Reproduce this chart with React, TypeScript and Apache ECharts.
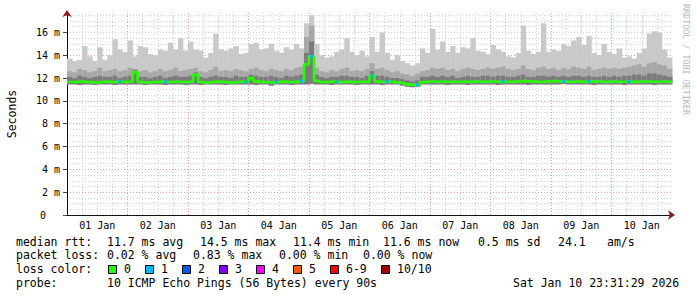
import React, { useEffect, useRef } from 'react';
import * as echarts from 'echarts';

// ---- data (hours since 01 Jan 00:00, 2-hour bins; values in ms) ----
const BIN_HOURS = 2;
const X_MAX_HOURS = 240;
const Y_MAX_MS = 17.7;

const dayLabels = ['01 Jan', '02 Jan', '03 Jan', '04 Jan', '05 Jan', '06 Jan', '07 Jan', '08 Jan', '09 Jan', '10 Jan'];
const dayLabelHours = [12, 36, 60, 84, 108, 132, 156, 180, 204, 228];
const yTickValues = [0, 2, 4, 6, 8, 10, 12, 14, 16];

const rttMax = [
  13.7, 13.5, 13.6, 14.8, 13.9, 13.5, 14.7, 13.6, 14.0, 15.4,
  14.5, 14.3, 15.3, 13.9, 14.8, 14.7, 14.1, 14.0, 14.5, 14.4,
  15.1, 14.5, 15.5, 14.4, 15.2, 14.5, 14.4, 13.8, 14.2, 15.9,
  14.5, 14.4, 14.6, 14.8, 14.1, 14.2, 15.0, 15.1, 14.5, 14.6,
  15.0, 14.4, 14.2, 14.7, 14.5, 15.0, 14.6, 16.8, 17.5, 15.0,
  14.0, 13.8, 13.9, 14.3, 14.5, 15.5, 14.3, 14.0, 14.4, 13.9,
  15.6, 14.3, 16.0, 14.2, 13.6, 14.0, 13.5, 13.3, 13.1, 13.3,
  14.6, 14.2, 16.3, 14.5, 15.2, 14.3, 14.8, 14.2, 14.7, 14.6,
  15.5, 14.4, 14.3, 14.1, 14.9, 14.5, 14.3, 13.9, 13.8, 14.2,
  16.6, 14.4, 14.1, 14.3, 16.8, 14.3, 14.5, 14.4, 15.0, 14.8,
  15.3, 15.6, 14.9, 15.7, 14.2, 14.0, 15.0, 14.3, 14.1, 14.6,
  13.8, 13.9, 13.7, 14.2, 14.6, 15.9, 16.1, 16.0, 14.5, 13.8,
];

const rttUpper = [
  12.6, 12.5, 12.8, 12.7, 12.5, 12.6, 12.9, 12.6, 12.7, 12.8, 12.6, 12.7,
  12.9, 12.8, 12.6, 12.7, 12.5, 12.6, 12.8, 12.6, 12.7, 12.9, 12.6, 12.7,
  12.8, 12.9, 12.6, 12.5, 12.7, 13.0, 12.6, 12.7, 12.6, 12.8, 12.7, 12.6,
  12.8, 12.9, 12.7, 12.6, 12.8, 12.7, 12.6, 12.8, 12.7, 12.9, 13.0, 15.6,
  16.6, 12.9, 12.6, 12.5, 12.7, 12.6, 12.8, 12.9, 12.6, 12.7, 12.6, 12.8,
  13.3, 12.8, 12.9, 12.7, 12.5, 12.6, 12.4, 12.3, 12.2, 12.4, 12.6, 12.7,
  12.9, 12.8, 12.9, 12.7, 12.8, 12.6, 12.8, 12.9, 12.8, 12.7, 12.8, 12.9,
  12.8, 12.9, 13.0, 12.8, 12.7, 12.8, 13.1, 12.8, 12.7, 12.9, 13.0, 12.8,
  12.9, 12.7, 12.9, 12.8, 13.0, 12.9, 12.8, 13.0, 12.7, 12.8, 12.9, 12.8,
  12.9, 12.8, 12.9, 13.0, 13.1, 13.2, 13.0, 13.3, 13.4, 13.2, 13.1, 12.8,
];

const rttLower = [
  12.1, 12.0, 12.2, 12.1, 12.0, 12.1, 12.2, 12.1, 12.1, 12.2, 12.0, 12.1,
  12.2, 12.7, 12.1, 12.1, 12.0, 12.1, 12.2, 12.0, 12.1, 12.2, 12.1, 12.1,
  12.2, 12.5, 12.1, 12.0, 12.1, 12.2, 12.1, 12.1, 12.0, 12.2, 12.1, 12.1,
  12.3, 12.2, 12.1, 12.1, 12.2, 12.1, 12.0, 12.2, 12.1, 12.2, 12.3, 14.2,
  15.2, 12.3, 12.1, 12.0, 12.1, 12.1, 12.2, 12.2, 12.1, 12.1, 12.0, 12.2,
  12.6, 12.2, 12.2, 12.1, 12.0, 12.0, 11.9, 11.8, 11.7, 11.8, 12.1, 12.1,
  12.2, 12.1, 12.2, 12.1, 12.2, 12.0, 12.1, 12.2, 12.1, 12.1, 12.2, 12.2,
  12.1, 12.2, 12.2, 12.1, 12.1, 12.2, 12.3, 12.1, 12.1, 12.2, 12.2, 12.1,
  12.2, 12.1, 12.2, 12.1, 12.2, 12.2, 12.1, 12.2, 12.1, 12.1, 12.2, 12.1,
  12.2, 12.1, 12.2, 12.2, 12.3, 12.3, 12.2, 12.4, 12.4, 12.3, 12.2, 12.1,
];

const rttMin = [
  11.45, 11.45, 11.4, 11.45, 11.45, 11.4, 11.45, 11.45, 11.45, 11.4, 11.45, 11.45,
  11.45, 11.45, 11.45, 11.4, 11.45, 11.45, 11.45, 11.4, 11.45, 11.45, 11.45, 11.4,
  11.45, 11.45, 11.4, 11.45, 11.45, 11.45, 11.45, 11.4, 11.45, 11.45, 11.45, 11.45,
  11.45, 11.4, 11.45, 11.45, 11.35, 11.45, 11.45, 11.45, 11.4, 11.45, 11.45, 11.45,
  11.5, 11.45, 11.45, 11.45, 11.4, 11.45, 11.45, 11.45, 11.45, 11.4, 11.45, 11.45,
  11.45, 11.45, 11.4, 11.45, 11.45, 11.45, 11.35, 11.25, 11.2, 11.25, 11.45, 11.45,
  11.45, 11.45, 11.45, 11.4, 11.45, 11.45, 11.45, 11.4, 11.45, 11.45, 11.45, 11.45,
  11.45, 11.4, 11.45, 11.45, 11.45, 11.45, 11.45, 11.4, 11.45, 11.45, 11.45, 11.45,
  11.45, 11.45, 11.5, 11.45, 11.45, 11.45, 11.45, 11.45, 11.4, 11.45, 11.45, 11.45,
  11.45, 11.45, 11.4, 11.45, 11.45, 11.45, 11.45, 11.45, 11.4, 11.45, 11.45, 11.45,
];

const rttMedian = [
  11.65, 11.65, 11.7, 11.65, 11.65, 11.6, 11.65, 11.7, 11.65, 11.65, 11.7, 11.65,
  11.7, 12.5, 11.65, 11.6, 11.65, 11.65, 11.7, 11.65, 11.65, 11.7, 11.65, 11.65,
  11.7, 12.3, 11.65, 11.6, 11.65, 11.7, 11.65, 11.65, 11.6, 11.65, 11.7, 11.65,
  12.0, 11.7, 11.65, 11.65, 11.6, 11.65, 11.7, 11.65, 11.65, 11.7, 11.75, 13.2,
  13.9, 11.75, 11.65, 11.65, 11.7, 11.65, 11.65, 11.7, 11.65, 11.65, 11.7, 11.65,
  12.2, 11.7, 11.65, 11.7, 11.65, 11.6, 11.55, 11.45, 11.4, 11.4, 11.65, 11.7,
  11.7, 11.65, 11.7, 11.65, 11.7, 11.65, 11.7, 11.65, 11.7, 11.7, 11.65, 11.7,
  11.7, 11.65, 11.7, 11.65, 11.7, 11.7, 11.75, 11.7, 11.7, 11.65, 11.7, 11.7,
  11.75, 11.7, 11.7, 11.65, 11.7, 11.7, 11.65, 11.7, 11.7, 11.7, 11.65, 11.7,
  11.7, 11.65, 11.7, 11.7, 11.65, 11.7, 11.7, 11.7, 11.65, 11.7, 11.7, 11.65,
];

// bins with packet loss (index into the arrays above) and the lost-ping count
const lossBins = [10, 19, 35, 41, 46, 48, 53, 60, 63, 69, 86, 98, 103, 111];
const lossCounts = [1, 1, 1, 1, 1, 1, 1, 1, 1, 1, 1, 1, 1, 1];

const lossLabels = ['0', '1', '2', '3', '4', '5', '6-9', '10/10'];
const lossColors = ['#26ff00', '#00b8ff', '#0059ff', '#7e00ff', '#ff00ff', '#ff5500', '#ff0000', '#a10000'];

const rttTitle = 'median rtt:';
const rttStats = ['11.7 ms avg', '14.5 ms max', '11.4 ms min', '11.6 ms now', '0.5 ms sd', '24.1', 'am/s'];
const lossTitle = 'packet loss:';
const lossStats = ['0.02 % avg', '0.83 % max', '0.00 % min', '0.00 % now'];
const colorTitle = 'loss color:';
const probeTitle = 'probe:';
const probeText = '10 ICMP Echo Pings (56 Bytes) every 90s';
const stampText = 'Sat Jan 10 23:31:29 2026';
const watermark = 'RRDTOOL / TOBI OETIKER';
const yAxisName = 'Seconds';

// ---- layout / style ----
const MONO = '"DejaVu Sans Mono", monospace';
const LEGEND_FONT = `11.5px ${MONO}`;
const rttStatX = [107, 200, 293, 383, 478, 558, 607];
const lossStatX = [107, 193, 279, 363];
const SMOKE_LIGHT = '#c9c9c9';
const SMOKE_MID = '#a8a8a8';
const SMOKE_DARK = '#7c7c7c';

function lossColorFor(n: number) {
  if (n <= 5) return lossColors[n];
  if (n < 10) return lossColors[6];
  return lossColors[7];
}

export default function App() {
  const ref = useRef<HTMLDivElement>(null);

  useEffect(() => {
    if (!ref.current) return;
    const chart = echarts.init(ref.current, null, { renderer: 'svg' });

    const times = rttMax.map((_, i) => i * BIN_HOURS);
    const medianData = rttMedian.map((v, i) => [times[i], v]);
    medianData.push([X_MAX_HOURS, rttMedian[rttMedian.length - 1]]);
    const smokeData = times.map((t, i) => [t, rttMin[i], rttLower[i], rttUpper[i], rttMax[i]]);
    const lossData = lossBins.map((b, k) => [times[b], rttMedian[b], lossCounts[k]]);

    // legend graphic elements
    const txt = (text: string, x: number, y: number) => ({
      type: 'text',
      x,
      y,
      silent: true,
      style: {
        text,
        font: LEGEND_FONT,
        fill: '#000',
        align: 'left',
        verticalAlign: 'middle',
        textAlign: 'left',
        textVerticalAlign: 'middle',
      },
    });
    const elements: any[] = [];
    const L1 = 241.5, L2 = 255.2, L3 = 269, L4 = 283.2;
    elements.push(txt(rttTitle, 16, L1));
    rttStats.forEach((s, i) => elements.push(txt(s, rttStatX[i], L1)));
    elements.push(txt(lossTitle, 16, L2));
    lossStats.forEach((s, i) => elements.push(txt(s, lossStatX[i], L2)));
    elements.push(txt(colorTitle, 16, L3));
    let sx = 108;
    lossLabels.forEach((lab, i) => {
      elements.push({
        type: 'rect',
        silent: true,
        shape: { x: sx + 0.5, y: L3 - 3.5, width: 8, height: 8 },
        style: { fill: lossColors[i], stroke: '#000', lineWidth: 1 },
      });
      elements.push(txt(lab, sx + 16, L3));
      sx += 16 + lab.length * 7 + 14;
    });
    elements.push(txt(probeTitle, 16, L4));
    elements.push(txt(probeText, 107, L4));
    elements.push(txt(stampText, 513, L4));
    elements.push({
      type: 'text',
      x: 686,
      y: 4,
      rotation: -Math.PI / 2,
      silent: true,
      style: {
        text: watermark,
        font: `8.4px ${MONO}`,
        fill: '#b8b8b8',
        align: 'left',
        verticalAlign: 'middle',
        textAlign: 'left',
        textVerticalAlign: 'middle',
      },
    });

    const gridMinor = { color: '#d2d2d2', type: [1, 2], width: 1 };
    const gridMajor = { color: '#e6a0a0', type: [1, 2], width: 1 };

    const option: any = {
      animation: false,
      backgroundColor: '#ffffff',
      grid: { left: 67, right: 25, top: 13, bottom: 82, containLabel: false, outerBoundsMode: 'none' },
      xAxis: [
        {
          type: 'value', position: 'bottom', min: 0, max: X_MAX_HOURS, interval: 6,
          axisLine: { show: false }, axisTick: { show: false }, axisLabel: { show: false },
          splitLine: { show: true, showMinLine: false, showMaxLine: false, lineStyle: gridMinor },
        },
        {
          type: 'value', position: 'bottom', min: 0, max: X_MAX_HOURS, interval: 24,
          axisLine: {
            show: true, symbol: ['none', 'arrow'], symbolSize: [7, 7], symbolOffset: [0, 3],
            lineStyle: { color: '#8b1a1a', width: 1 },
          },
          axisTick: { show: false }, axisLabel: { show: false }, splitLine: { show: false },
        },
        {
          type: 'value', position: 'bottom', min: 0, max: X_MAX_HOURS, interval: 24,
          axisLine: { show: true, lineStyle: { color: '#111', width: 1 } },
          axisTick: { show: false },
          axisLabel: {
            show: true,
            customValues: dayLabelHours,
            formatter: (v: number) => dayLabels[Math.round((v - dayLabelHours[0]) / 24)] ?? '',
            fontFamily: MONO, fontSize: 10, color: '#000', margin: 5,
          },
          splitLine: { show: true, showMinLine: false, showMaxLine: false, lineStyle: gridMajor },
        },
      ],
      yAxis: [
        {
          type: 'value', position: 'left', min: 0, max: Y_MAX_MS, interval: 0.5,
          axisLine: { show: false }, axisTick: { show: false }, axisLabel: { show: false },
          splitLine: { show: true, showMinLine: false, showMaxLine: false, lineStyle: gridMinor },
        },
        {
          type: 'value', position: 'left', min: 0, max: Y_MAX_MS, interval: 2,
          axisLine: {
            show: true, symbol: ['none', 'arrow'], symbolSize: [7, 7], symbolOffset: [0, 3],
            lineStyle: { color: '#8b1a1a', width: 1 },
          },
          axisTick: { show: false }, axisLabel: { show: false }, splitLine: { show: false },
        },
        {
          type: 'value', position: 'left', min: 0, max: Y_MAX_MS, interval: 2,
          name: yAxisName, nameLocation: 'middle', nameGap: 49, nameRotate: 90,
          nameTextStyle: { fontFamily: MONO, fontSize: 11.5, color: '#000' },
          axisLine: { show: true, lineStyle: { color: '#111', width: 1 } },
          axisTick: { show: true, length: 4, customValues: yTickValues, lineStyle: { color: '#444' } },
          axisLabel: {
            show: true,
            customValues: yTickValues,
            formatter: (v: number) => (v === 0 ? '{z|0}' : `${v} m`),
            rich: { z: { padding: [0, 14, 0, 0], fontFamily: MONO, fontSize: 10, color: '#000' } },
            fontFamily: MONO, fontSize: 10, color: '#000', margin: 7,
          },
          splitLine: { show: true, showMinLine: false, showMaxLine: false, lineStyle: gridMajor },
        },
      ],
      graphic: { elements },
      series: [
        {
          type: 'custom', name: 'smoke', xAxisIndex: 2, yAxisIndex: 2, silent: true, z: 2,
          data: smokeData,
          encode: { x: 0, y: [1, 2, 3, 4] },
          renderItem: (params: any, api: any) => {
            const t = api.value(0);
            const x0 = api.coord([t, 0])[0];
            const x1 = api.coord([t + BIN_HOURS, 0])[0];
            const yMin = api.coord([t, api.value(1)])[1];
            const yLow = api.coord([t, api.value(2)])[1];
            const yUp = api.coord([t, api.value(3)])[1];
            const yMax = api.coord([t, api.value(4)])[1];
            const w = x1 - x0 + 0.4;
            return {
              type: 'group',
              children: [
                { type: 'rect', shape: { x: x0, y: yMax, width: w, height: yMin - yMax }, style: { fill: SMOKE_LIGHT } },
                { type: 'rect', shape: { x: x0, y: yUp, width: w, height: yMin - yUp }, style: { fill: SMOKE_MID } },
                { type: 'rect', shape: { x: x0, y: yLow, width: w, height: yMin - yLow }, style: { fill: SMOKE_DARK } },
              ],
            };
          },
        },
        {
          type: 'line', name: 'median', xAxisIndex: 2, yAxisIndex: 2, step: 'end', symbol: 'none', silent: true,
          data: medianData, lineStyle: { color: lossColors[0], width: 2.6 }, z: 5,
        },
        {
          type: 'custom', name: 'loss', xAxisIndex: 2, yAxisIndex: 2, silent: true, z: 6,
          data: lossData,
          encode: { x: 0, y: 1 },
          renderItem: (params: any, api: any) => {
            const t = api.value(0);
            const m = api.value(1);
            const n = api.value(2);
            const p0 = api.coord([t, m]);
            const p1 = api.coord([t + BIN_HOURS, m]);
            const w = Math.min(3, p1[0] - p0[0]);
            const cx = (p0[0] + p1[0]) / 2;
            return {
              type: 'rect',
              shape: { x: cx - w / 2, y: p0[1] - 1.4, width: w, height: 2.8 },
              style: { fill: lossColorFor(n) },
            };
          },
        },
      ],
    };

    chart.setOption(option);
    return () => chart.dispose();
  }, []);

  return (
    <div
      ref={ref}
      style={{ position: 'fixed', left: 0, top: 0, width: 697, height: 297, background: '#fff' }}
    />
  );
}
